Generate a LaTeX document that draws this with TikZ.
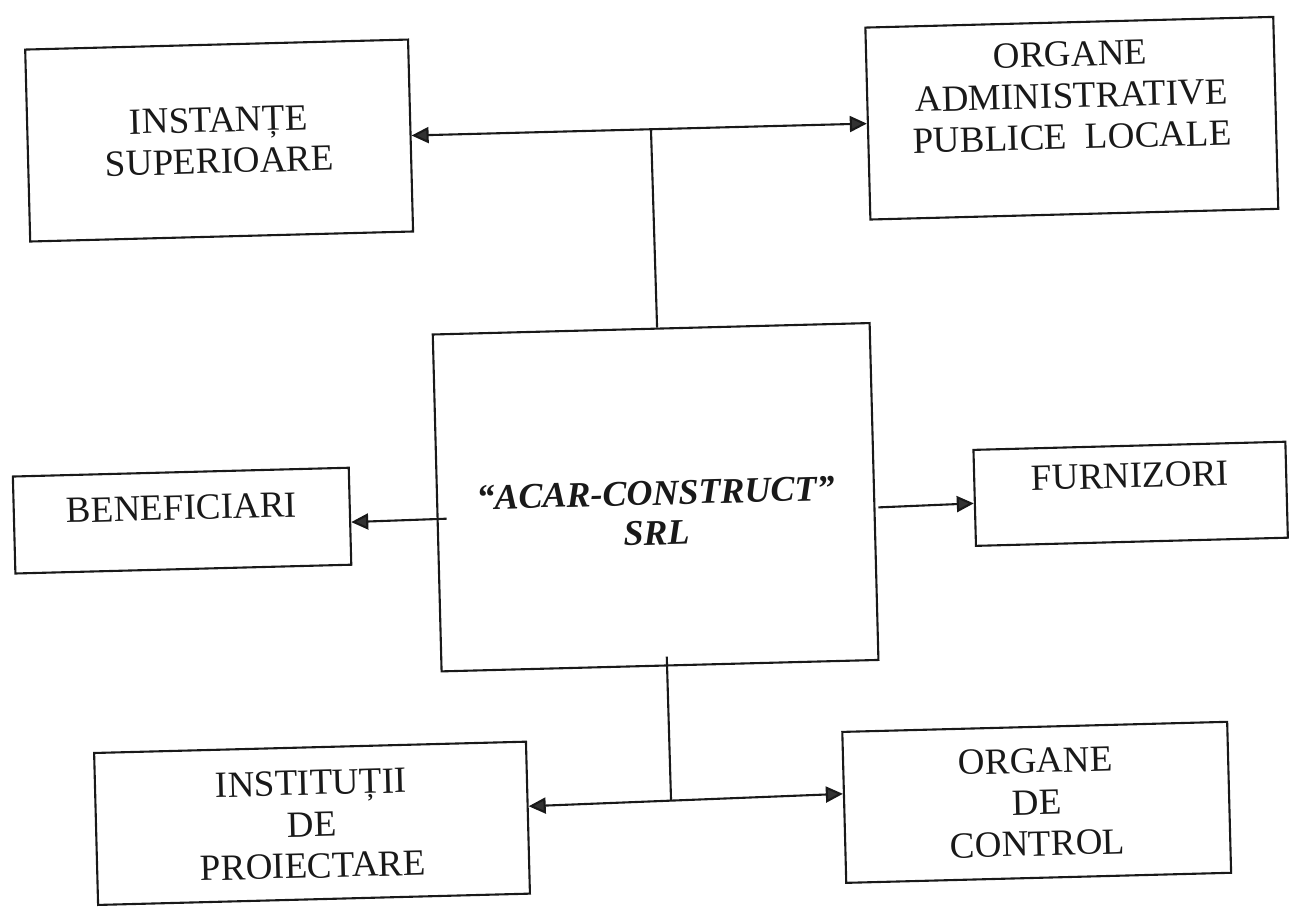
\documentclass[tikz,border=0pt]{standalone}
\usepackage{fontspec}
\setmainfont{Liberation Serif}
\usetikzlibrary{arrows.meta}
\definecolor{ink}{RGB}{25,25,25}
\definecolor{tipc}{RGB}{50,50,50}
\begin{document}
\begin{tikzpicture}[x=1pt,y=1pt,
  box/.style={draw=ink, line width=2.1pt, rectangle, inner sep=0pt},
  lbl/.style={font=\fontsize{37}{41.5}\selectfont, align=center, text=ink, inner sep=0pt},
  mainlbl/.style={font=\fontsize{36}{40}\selectfont\bfseries\itshape, align=center, text=ink, inner sep=0pt},
  conn/.style={draw=ink, line width=2.1pt},
  oneway/.style={-{Triangle[length=17pt,width=16pt,fill=tipc]}},
  twoway/.style={{Triangle[length=17pt,width=16pt,fill=tipc]}-{Triangle[length=17pt,width=16pt,fill=tipc]}}]
\fill[white] (0,0) rectangle (1289,911);
\useasboundingbox (0,0) rectangle (1289,911);
\begin{scope}[shift={(644.5,455.5)}, rotate=1.5, transform shape]
  % boxes
  \node[box, minimum width=383pt, minimum height=192pt] (A) at (-417,326) {};
  \node[lbl] (At) at (-417,326) {INSTANȚE\\SUPERIOARE};
  \node[box, minimum width=408pt, minimum height=192pt] (B) at (436,326) {};
  \node[lbl] (Bt) at (436,348.5) {ORGANE\\ADMINISTRATIVE\\PUBLICE\hspace{0.5em}LOCALE};
  \node[box, minimum width=437pt, minimum height=337pt] (C) at (10,-42) {};
  \node[mainlbl] (Ct) at (10,-58) {“ACAR-CONSTRUCT”\\SRL};
  \node[box, minimum width=336pt, minimum height=97pt] (Ben) at (-464,-53) {};
  \node[lbl] (Bent) at (-464,-40) {BENEFICIARI};
  \node[box, minimum width=312pt, minimum height=96pt] (Fur) at (485,-51) {};
  \node[lbl] (Furt) at (485,-33) {FURNIZORI};
  \node[box, minimum width=432pt, minimum height=152pt] (Inst) at (-342,-359) {};
  \node[lbl] (Instt) at (-342,-360) {INSTITUȚII\\DE\\PROIECTARE};
  \node[box, minimum width=385pt, minimum height=151pt] (OC) at (383,-357) {};
  \node[lbl] (OCt) at (383,-357) {ORGANE\\DE\\CONTROL};
  % connectors
  \coordinate (jt) at (15,326);
  \draw[conn] (C.88.2) -- (jt);
  \draw[conn, twoway] (A.east) -- (B.west);
  \coordinate (bs) at (-199.5,-58);
  \draw[conn, oneway] (bs) -- (Ben.358.3);
  \coordinate (fs) at (232.5,-58);
  \draw[conn, oneway] (fs) -- (Fur.182.6);
  \coordinate (jb0) at (17,-201.7);
  \coordinate (jb) at (17.5,-345);
  \draw[conn] (jb0) -- (jb);
  \draw[conn, twoway] (Inst.3.7) -- (OC.176.4);
\end{scope}
\end{tikzpicture}
\end{document}
